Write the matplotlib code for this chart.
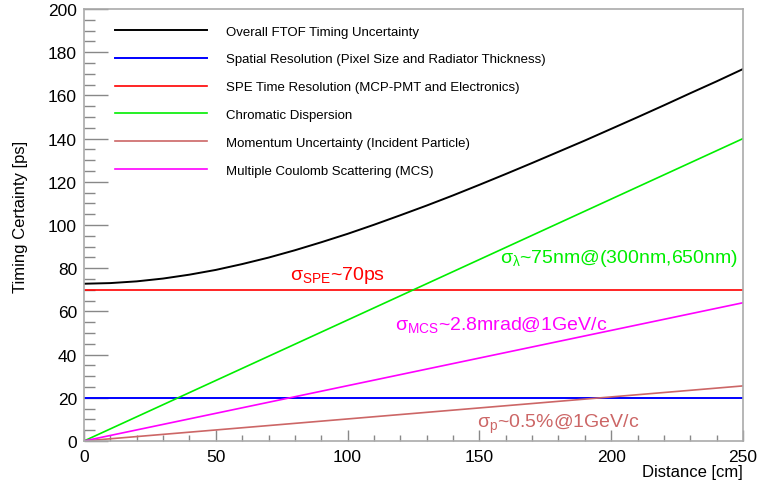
import matplotlib
matplotlib.use("Agg")
import matplotlib.pyplot as plt
from matplotlib.ticker import MultipleLocator

plt.rcParams["font.family"] = ["Liberation Sans", "DejaVu Sans"]
plt.rcParams["mathtext.fontset"] = "custom"
plt.rcParams["mathtext.rm"] = "Liberation Sans"
plt.rcParams["mathtext.it"] = "Liberation Sans"

# --- DATA ---
distance = [0, 10, 20, 30, 40, 50, 60, 70, 80, 90, 100, 110, 120, 130, 140,
            150, 160, 170, 180, 190, 200, 210, 220, 230, 240, 250]
overall = [72.8, 73.1, 73.9, 75.2, 77.0, 79.2, 81.9, 84.9, 88.3, 92.0, 95.9,
           100.1, 104.5, 109.0, 113.7, 118.6, 123.6, 128.7, 133.9, 139.1,
           144.5, 149.9, 155.4, 161.0, 166.5, 172.2]
line_x = [0, 250]
spatial = [20, 20]
spe = [70, 70]
chromatic = [0, 140]
momentum = [0, 25.5]
mcs = [0, 64]

labels = [
    "Overall FTOF Timing Uncertainty",
    "Spatial Resolution (Pixel Size and Radiator Thickness)",
    "SPE Time Resolution (MCP-PMT and Electronics)",
    "Chromatic Dispersion",
    "Momentum Uncertainty (Incident Particle)",
    "Multiple Coulomb Scattering (MCS)",
]
c_mom = "#cc6666"

fig = plt.figure(figsize=(7.58, 4.85), dpi=100)
ax = fig.add_axes([0.1108, 0.0887, 0.8694, 0.8907])

ax.plot(distance, overall, color="black", lw=1.4, label=labels[0])
ax.plot(line_x, spatial, color="#0000ff", lw=1.4, label=labels[1])
ax.plot(line_x, spe, color="#ff0000", lw=1.2, label=labels[2])
ax.plot(line_x, chromatic, color="#00ee00", lw=1.2, label=labels[3])
ax.plot(line_x, momentum, color=c_mom, lw=1.2, label=labels[4])
ax.plot(line_x, mcs, color="#ff00ff", lw=1.2, label=labels[5])

ax.set_xlim(0, 250)
ax.set_ylim(0, 200)

# ROOT-like axes: grey frame, ticks inside on left/bottom only
for s in ax.spines.values():
    s.set_color("#aaaaaa")
    s.set_linewidth(1.2)
ax.xaxis.set_major_locator(MultipleLocator(50))
ax.xaxis.set_minor_locator(MultipleLocator(10))
ax.yaxis.set_major_locator(MultipleLocator(20))
ax.yaxis.set_minor_locator(MultipleLocator(5))
ax.tick_params(axis="both", which="both", direction="in", color="#888888",
               labelsize=12.5, top=False, right=False)
ax.tick_params(axis="y", which="major", length=17, width=1, pad=5)
ax.tick_params(axis="y", which="minor", length=8, width=1)
ax.tick_params(axis="x", which="major", length=8, width=1, pad=6)
ax.tick_params(axis="x", which="minor", length=4, width=1)

ax.set_ylabel("Timing Certainty [ps]", fontsize=12)
ax.yaxis.set_label_coords(-0.085, 0.521)
ax.set_xlabel("Distance [cm]", fontsize=12, loc="right", labelpad=0)

ax.legend(loc="upper left", bbox_to_anchor=(0.047, 0.962), frameon=False,
          fontsize=9.5, handlelength=7.0, handletextpad=1.45, labelspacing=1.18,
          borderpad=0, borderaxespad=0)

ax.text(78, 75, r"$\mathregular{\sigma_{SPE}}$~70ps", color="#ff0000", fontsize=14)
ax.text(248, 83, r"$\mathregular{\sigma_{\lambda}}$~75nm@(300nm,650nm)",
        color="#00ee00", fontsize=14, ha="right")
ax.text(118, 52, r"$\mathregular{\sigma_{MCS}}$~2.8mrad@1GeV/c", color="#ff00ff", fontsize=14)
ax.text(149, 6.5, r"$\mathregular{\sigma_{p}}$~0.5%@1GeV/c", color=c_mom, fontsize=14)

fig.savefig("out.png", dpi=100)
